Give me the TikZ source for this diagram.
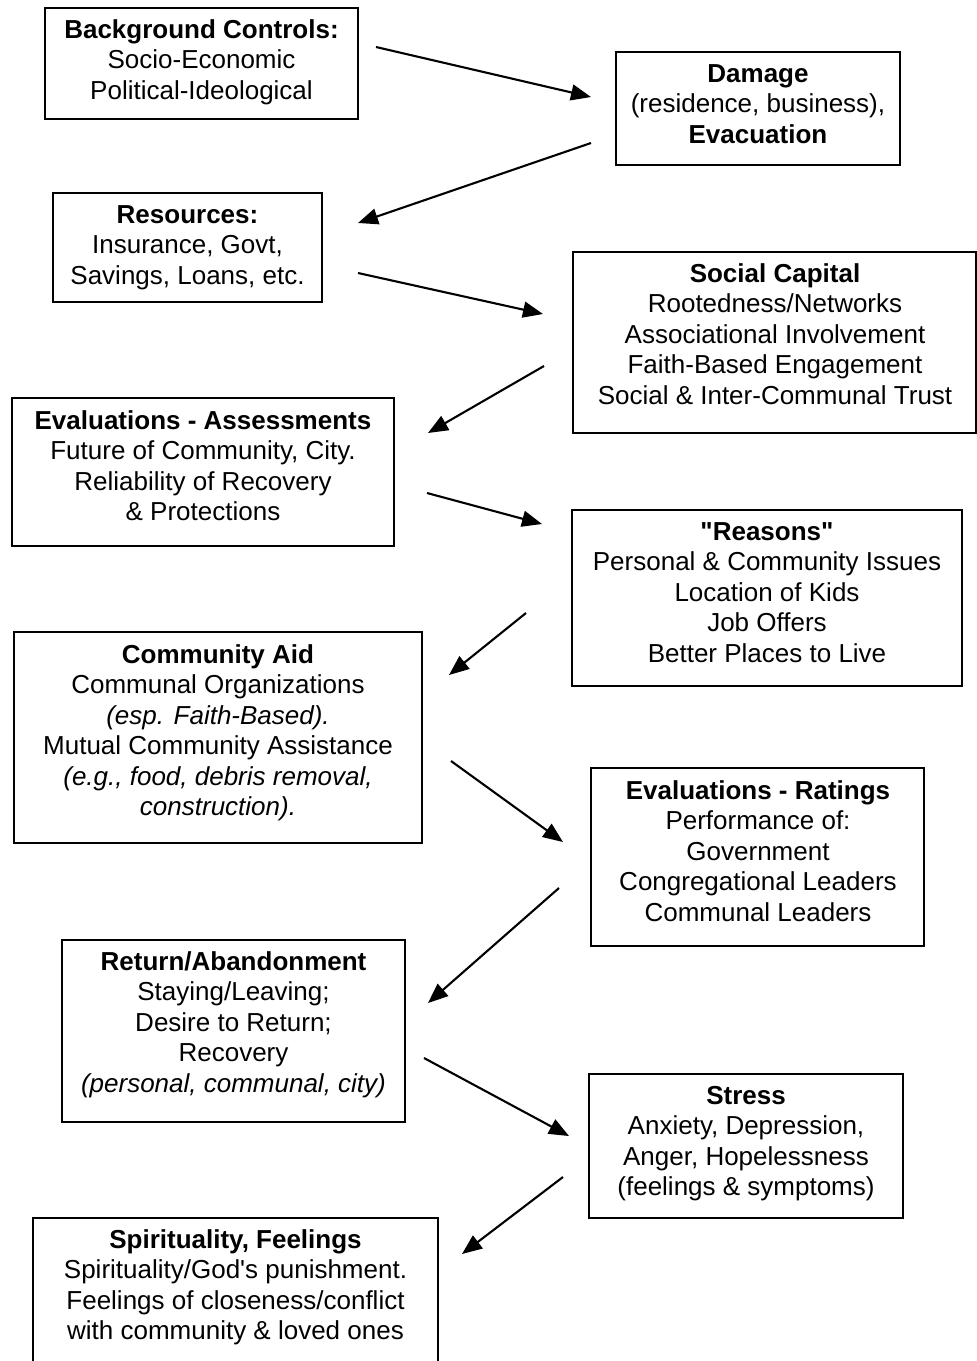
\documentclass[tikz,border=0pt]{standalone}
\usepackage{fontspec}
\setmainfont[Ligatures=TeXOff]{Liberation Sans}
\usetikzlibrary{arrows.meta}
\tikzset{
  boxframe/.style={draw=black, line width=1.9pt, fill=none},
  txt/.style={anchor=north, inner sep=0pt, align=center, font=\fontsize{26}{30.5}\selectfont},
  arr/.style={line width=2.1pt, -{Triangle[length=20pt,width=16pt]}}
}
\newcommand{\fl}{\rule{0pt}{21pt}}
\begin{document}
\begin{tikzpicture}[x=1pt,y=-1pt]
\clip (0,0) rectangle (977,1361);
\fill[white] (0,0) rectangle (977,1361);
% boxes
\draw[boxframe] (45,8) rectangle (358,119);
\draw[boxframe] (616,52) rectangle (900,165);
\draw[boxframe] (53,193) rectangle (322,302);
\draw[boxframe] (573,252) rectangle (976,433);
\draw[boxframe] (12,398) rectangle (394,546);
\draw[boxframe] (572,510) rectangle (962,686);
\draw[boxframe] (14,632) rectangle (422,843);
\draw[boxframe] (591,768) rectangle (924,946);
\draw[boxframe] (62,940) rectangle (405,1122);
\draw[boxframe] (589,1074) rectangle (903,1218);
\draw[boxframe] (33,1218) rectangle (438,1390);
% texts
\node[txt] (bg) at (201.5,17) {\fl\textbf{Background Controls:}\\Socio-Economic\\Political-Ideological};
\node[txt] (dmg) at (758,61) {\fl\textbf{Damage}\\(residence, business),\\\textbf{Evacuation}};
\node[txt] (res) at (187.5,202) {\fl\textbf{Resources:}\\Insurance, Govt,\\Savings, Loans, etc.};
\node[txt] (soc) at (775,261) {\fl\textbf{Social Capital}\\Rootedness/Networks\\Associational Involvement\\Faith-Based Engagement\\Social \& Inter-Communal Trust};
\node[txt] (eva) at (203,408) {\fl\textbf{Evaluations - Assessments}\\Future of Community, City.\\Reliability of Recovery\\\& Protections};
\node[txt] (rea) at (767,519) {\fl\textbf{"Reasons"}\\Personal \& Community Issues\\Location of Kids\\Job Offers\\Better Places to Live};
\node[txt] (aid) at (218,642) {\fl\textbf{Community Aid}\\Communal Organizations\\\textit{(esp. Faith-Based).}\\Mutual Community Assistance\\\textit{(e.g., food, debris removal,}\\\textit{construction).}};
\node[txt] (rat) at (758,778) {\fl\textbf{Evaluations - Ratings}\\Performance of:\\Government\\Congregational Leaders\\Communal Leaders};
\node[txt] (ret) at (233.5,949) {\fl\textbf{Return/Abandonment}\\Staying/Leaving;\\Desire to Return;\\Recovery\\\textit{(personal, communal, city)}};
\node[txt] (str) at (746,1083) {\fl\textbf{Stress}\\Anxiety, Depression,\\Anger, Hopelessness\\(feelings \& symptoms)};
\node[txt] (spi) at (235.5,1227) {\fl\textbf{Spirituality, Feelings}\\Spirituality/God's punishment.\\Feelings of closeness/conflict\\with community \& loved ones};
% arrow end points
\coordinate (a1s) at (376,47);   \coordinate (a1e) at (591,97);
\coordinate (a2s) at (591,143);  \coordinate (a2e) at (358,223);
\coordinate (a3s) at (358,273);  \coordinate (a3e) at (543,314);
\coordinate (a4s) at (544,366);  \coordinate (a4e) at (428,433);
\coordinate (a5s) at (427,493);  \coordinate (a5e) at (542,524);
\coordinate (a6s) at (526,613);  \coordinate (a6e) at (449,675);
\coordinate (a7s) at (451,761);  \coordinate (a7e) at (563,842);
\coordinate (a8s) at (559,888);  \coordinate (a8e) at (428,1003);
\coordinate (a9s) at (424,1058); \coordinate (a9e) at (569,1136);
\coordinate (a10s) at (563,1177); \coordinate (a10e) at (462,1254);
\foreach \i in {1,...,10} {\draw[arr] (a\i s) -- (a\i e);}
\end{tikzpicture}
\end{document}
